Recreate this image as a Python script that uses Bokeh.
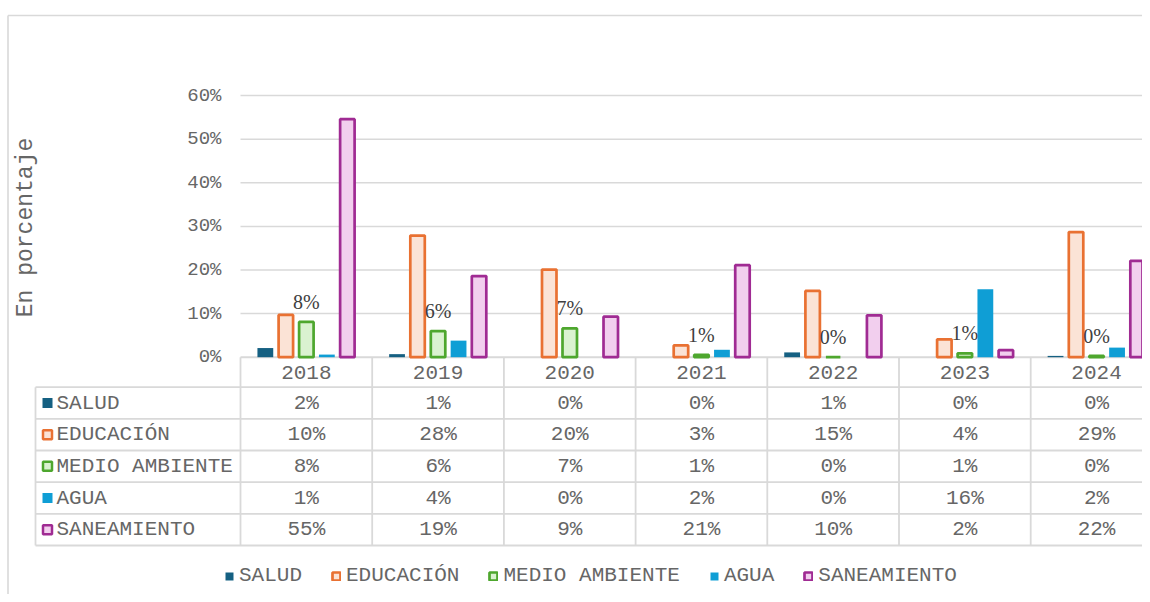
from math import pi
from bokeh.plotting import figure
from bokeh.models import Range1d, Legend, LegendItem
from bokeh.core.properties import value
from bokeh.embed import file_html
from bokeh.resources import INLINE

# ---------------- data ----------------
years = ["2018", "2019", "2020", "2021", "2022", "2023", "2024"]
series_names = ["SALUD", "EDUCACIÓN", "MEDIO AMBIENTE", "AGUA", "SANEAMIENTO"]
salud = [2.1, 0.7, 0.0, 0.0, 1.1, 0.0, 0.3]
educacion = [9.7, 27.9, 20.1, 2.7, 15.2, 4.1, 28.7]
medio_ambiente = [8.1, 6.0, 6.6, 0.55, 0.0, 0.9, 0.3]
agua = [0.6, 3.8, 0.0, 1.7, 0.0, 15.6, 2.2]
saneamiento = [54.6, 18.6, 9.3, 21.1, 9.6, 1.6, 22.1]
y_ticks = [0, 10, 20, 30, 40, 50, 60]
y_tick_labels = ["0%", "10%", "20%", "30%", "40%", "50%", "60%"]
y_title = "En porcentaje"

all_series = [salud, educacion, medio_ambiente, agua, saneamiento]

# ---------------- styles ----------------
line_cols = ["#156082", "#E97132", "#4EA72E", "#0F9ED5", "#A02B93"]
fill_cols = ["#156082", "#FBE3D6", "#DAF2D0", "#0F9ED5", "#F2CFEE"]
outlined = [False, True, True, False, True]
GRID = "#d9d9d9"
TXT = "#666666"
MONO = value("Liberation Mono")

# layout helpers (image pixel -> data units)
COL_PX = 131.7
X0_PX = 240.0
Y0_PX = 356.7
PCT_PX = 4.36
W, H = 1142, 594


def X(px):
    return (px - X0_PX) / COL_PX


def Y(py):
    return (Y0_PX - py) / PCT_PX


p = figure(width=W, height=H,
           x_range=Range1d(X(0), X(W)), y_range=Range1d(Y(H), Y(0)),
           x_axis_location=None, y_axis_location=None, title=None,
           output_backend="svg", toolbar_location=None, min_border=0)
p.outline_line_color = None
p.grid.visible = False
p.background_fill_color = "white"
p.border_fill_color = "white"

ncat = len(years)
xr = ncat + 0.5

# chart outer border (left + top)
p.segment(x0=[X(7.5), X(7.5)], y0=[Y(15), Y(15)], x1=[X(7.5), xr], y1=[Y(H + 10), Y(15)],
          line_color=GRID, line_width=1.6)

# horizontal gridlines
p.segment(x0=[0] * len(y_ticks), x1=[xr] * len(y_ticks), y0=y_ticks, y1=y_ticks,
          line_color=GRID, line_width=[2.0] + [1.5] * (len(y_ticks) - 1))

# y tick labels
p.text(x=[X(221)] * len(y_ticks), y=y_ticks, text=y_tick_labels,
       text_font=MONO, text_font_size="19px", text_color=TXT,
       text_align="right", text_baseline="middle")

# y axis title
p.text(x=[X(25)], y=[Y(227)], text=[y_title], angle=pi / 2,
       text_font=MONO, text_font_size="23px", text_color=TXT,
       text_align="center", text_baseline="middle")

# bars
step = 0.1557
renderers = []
for k, vals in enumerate(all_series):
    xs = [i + 0.5 + (k - 2) * step for i in range(ncat)]
    if outlined[k]:
        r = p.vbar(x=xs, top=vals, bottom=0, width=0.110,
                   fill_color=fill_cols[k], line_color=line_cols[k], line_width=2.7)
    else:
        r = p.vbar(x=xs, top=vals, bottom=0, width=0.120,
                   fill_color=fill_cols[k], line_color=None)
    renderers.append(r)

# data labels on MEDIO AMBIENTE
mx = [i + 0.5 for i in range(ncat)]
p.text(x=mx, y=medio_ambiente, text=[f"{int(v + 0.5)}%" for v in medio_ambiente],
       y_offset=-20, text_font=value("Liberation Serif"), text_font_size="20px",
       text_color="#404040", text_align="center", text_baseline="middle")

# ---------------- data table ----------------
row_lines_px = [386.7, 418.3, 450.0, 481.7, 513.3, 545.0]
row_centers_px = [(row_lines_px[j] + row_lines_px[j + 1]) / 2 for j in range(5)]
header_center_px = 371.5
left_px = 35

# horizontal table lines
p.segment(x0=[X(left_px)] * len(row_lines_px), x1=[xr] * len(row_lines_px),
          y0=[Y(v) for v in row_lines_px], y1=[Y(v) for v in row_lines_px],
          line_color=GRID, line_width=1.8)
# vertical table lines
p.segment(x0=list(range(ncat + 1)), x1=list(range(ncat + 1)),
          y0=[0] * (ncat + 1), y1=[Y(545)] * (ncat + 1),
          line_color=GRID, line_width=1.8)
p.segment(x0=[X(left_px)], x1=[X(left_px)], y0=[Y(386.7)], y1=[Y(545)],
          line_color=GRID, line_width=1.8)

# header years
p.text(x=mx, y=[Y(header_center_px)] * ncat, text=years,
       text_font=MONO, text_font_size="21px", text_color=TXT,
       text_align="center", text_baseline="middle")

for k, vals in enumerate(all_series):
    yc = Y(row_centers_px[k])
    # marker
    if outlined[k]:
        p.rect(x=[X(47)], y=[yc], width=9, height=9, width_units="screen", height_units="screen",
               fill_color=fill_cols[k], line_color=line_cols[k], line_width=2.5)
    else:
        p.rect(x=[X(47)], y=[yc], width=10, height=10, width_units="screen", height_units="screen",
               fill_color=fill_cols[k], line_color=None)
    # row label
    p.text(x=[X(56)], y=[yc], text=[series_names[k]],
           text_font=MONO, text_font_size="21px", text_color=TXT,
           text_align="left", text_baseline="middle")
    # values
    p.text(x=mx, y=[yc] * ncat, text=[f"{int(v + 0.5)}%" for v in vals],
           text_font=MONO, text_font_size="21px", text_color=TXT,
           text_align="center", text_baseline="middle")

# ---------------- legend ----------------
legend = Legend(items=[LegendItem(label=n, renderers=[r]) for n, r in zip(series_names, renderers)],
                orientation="horizontal", location=(224, H - 587),
                glyph_width=10, glyph_height=10, label_standoff=5, spacing=29,
                padding=0, margin=0, border_line_color=None, background_fill_alpha=0,
                label_text_font="Liberation Mono", label_text_font_size="21px",
                label_text_color=TXT)
p.add_layout(legend)

open("out.html", "w").write(file_html(p, INLINE))
